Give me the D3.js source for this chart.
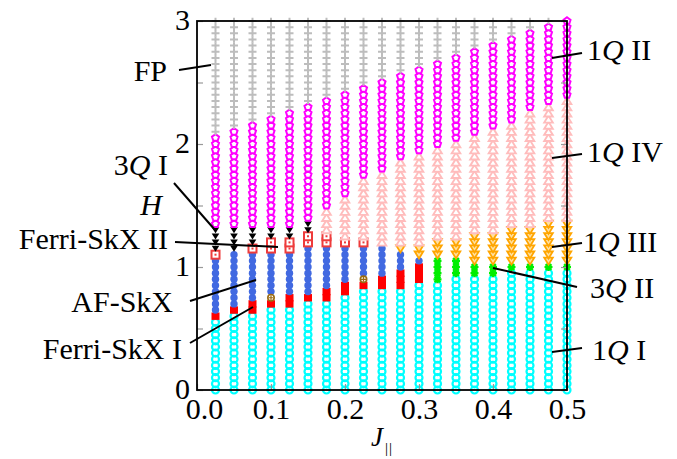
<!DOCTYPE html>
<html>
<head>
<meta charset="utf-8">
<script src="https://cdn.jsdelivr.net/npm/d3@7"></script>
<style>
  html, body { margin: 0; padding: 0; background: #fff; }
  svg { display: block; }
  text { font-family: "Liberation Serif", "Times New Roman", serif; fill: #000; }
</style>
</head>
<body>
<svg id="chart" width="677" height="459"></svg>
<script>
// Exchange coupling J_parallel of each computed column
const jValues = [0.025, 0.05, 0.075, 0.1, 0.125, 0.15, 0.175, 0.2, 0.225, 0.25,
                 0.275, 0.3, 0.325, 0.35, 0.375, 0.4, 0.425, 0.45, 0.475, 0.5];

// Field grid step used in every column
const hStep = 0.05;

// For each phase: [lowest H, highest H] per column (null = phase absent)
const rangeFP = [[2.1,3],[2.15,3],[2.2,3],[2.25,3],[2.3,3],[2.35,3],[2.4,3],[2.45,3],[2.5,3],[2.55,3],
                 [2.6,3],[2.65,3],[2.7,3],[2.75,3],[2.8,3],[2.85,3],[2.9,3],[2.95,3],[3,3],null];
const range1QII = [[1.35,2.05],[1.35,2.1],[1.35,2.15],[1.35,2.2],[1.35,2.25],[1.4,2.3],[1.5,2.35],[1.6,2.4],[1.75,2.45],[1.8,2.5],
                   [1.9,2.55],[1.95,2.6],[2.0,2.65],[2.05,2.7],[2.1,2.75],[2.15,2.8],[2.2,2.85],[2.3,2.9],[2.35,2.95],[2.4,3.0]];
const range1QIV = [null,null,null,null,null,null,[1.3,1.45],[1.25,1.55],[1.25,1.7],[1.2,1.75],
                   [1.2,1.85],[1.2,1.9],[1.25,1.95],[1.25,2.0],[1.3,2.05],[1.3,2.1],[1.35,2.15],[1.35,2.25],[1.4,2.3],[1.4,2.35]];
const range3QI = [[1.15,1.3],[1.15,1.3],[1.2,1.3],[1.25,1.3],[1.25,1.3],[1.3,1.35],null,null,null,null,
                  null,null,null,null,null,null,null,null,null,null];
const rangeFerriII = [[1.1,1.1],null,[1.15,1.15],[1.15,1.2],[1.15,1.2],[1.2,1.25],[1.2,1.25],[1.2,1.2],[1.2,1.2],null,
                      null,null,null,null,null,null,null,null,null,null];
const range1QIII = [null,null,null,null,null,null,null,null,null,null,
                    [1.15,1.15],[1.1,1.15],[1.1,1.2],[1.1,1.2],[1.05,1.25],[1.05,1.25],[1.05,1.3],[1.05,1.3],[1.05,1.35],[1.05,1.35]];
const rangeAFSkX = [[0.65,1.05],[0.7,1.1],[0.75,1.1],[0.8,1.1],[0.8,1.1],[0.8,1.15],[0.85,1.15],[0.9,1.15],[0.95,1.15],[0.95,1.15],
                    [1.0,1.1],[1.05,1.05],null,null,null,null,null,null,null,null];
const range3QII = [null,null,null,null,null,null,null,null,null,null,
                   null,null,[0.9,1.05],[0.95,1.05],[0.95,1.0],[0.95,1.0],[1.0,1.0],[1.0,1.0],[1.0,1.0],[1.0,1.0]];
const rangeFerriI = [[0.6,0.6],[0.65,0.65],[0.65,0.7],[0.7,0.7],[0.7,0.75],[0.75,0.75],[0.75,0.8],[0.8,0.85],[0.85,0.85],[0.85,0.9],
                     [0.85,0.95],[0.9,1.0],null,null,null,null,null,null,null,null];
const range1QI = [[0,0.55],[0,0.6],[0,0.6],[0,0.65],[0,0.65],[0,0.7],[0,0.7],[0,0.75],[0,0.8],[0,0.8],
                  [0,0.8],[0,0.85],[0,0.85],[0,0.9],[0,0.9],[0,0.9],[0,0.95],[0,0.95],[0,0.95],[0,0.95]];
// Isolated points of an unlabelled state: [J, H]
const otherPoints = [[0.1, 0.75], [0.225, 0.9]];

const xTicks = [0, 0.1, 0.2, 0.3, 0.4, 0.5];
const yTicks = [0, 0.5, 1, 1.5, 2, 2.5, 3];

const svg = d3.select("#chart");
const plotLeft = 197, plotRight = 567, plotTop = 21, plotBottom = 390;
const x = d3.scaleLinear().domain([0, 0.5]).range([plotLeft, plotRight]);
const y = d3.scaleLinear().domain([0, 3]).range([plotBottom, plotTop]);

function expand(ranges) {
  const pts = [];
  ranges.forEach((r, i) => {
    if (!r) return;
    const a = Math.round(r[0] / hStep), b = Math.round(r[1] / hStep);
    for (let k = a; k <= b; k++) pts.push([jValues[i], k * hStep]);
  });
  return pts;
}

const plot = svg.append("g");

function layer(points, draw) {
  const g = plot.append("g");
  points.forEach(p => {
    const m = g.append("g").attr("transform", `translate(${x(p[0])},${y(p[1])})`);
    draw(m);
  });
}

// 1Q I: cyan open circles
layer(expand(range1QI), m => m.append("circle").attr("r", 3.5)
  .attr("fill", "none").attr("stroke", "#00ffff").attr("stroke-width", 2.2));
// Ferri-SkX I: red filled squares
layer(expand(rangeFerriI), m => m.append("rect").attr("x", -4).attr("y", -3.7)
  .attr("width", 8).attr("height", 7.4).attr("fill", "#ff0000"));
// AF-SkX: blue dots
layer(expand(rangeAFSkX), m => m.append("circle").attr("r", 3.7).attr("fill", "#4169e1"));
// unlabelled state
layer(otherPoints, m => {
  m.append("circle").attr("r", 3.2).attr("fill", "#fff").attr("stroke", "#9a6b12").attr("stroke-width", 1.6);
  m.append("path").attr("d", "M-2.5,0H2.5M0,-2.5V2.5").attr("stroke", "#9a6b12").attr("stroke-width", 1.2);
});
// Ferri-SkX II: red open squares
layer(expand(rangeFerriII), m => {
  m.append("rect").attr("x", -4).attr("y", -4).attr("width", 8).attr("height", 8)
    .attr("fill", "#fff").attr("stroke", "#ee3b3b").attr("stroke-width", 2);
  m.append("rect").attr("x", -1).attr("y", -1).attr("width", 2).attr("height", 2).attr("fill", "#ee3b3b");
});
// 3Q I: black filled down-triangles
layer(expand(range3QI), m => m.append("path").attr("d", "M-3.8,-2.8L3.8,-2.8L0,3.2Z").attr("fill", "#000"));
// 3Q II: green asterisks
layer(expand(range3QII), m => m.append("path")
  .attr("d", "M-4,0H4M0,-4V4M-2.9,-2.9L2.9,2.9M-2.9,2.9L2.9,-2.9")
  .attr("stroke", "#00ee00").attr("stroke-width", 2.2));
// 1Q III: orange open down-triangles
layer(expand(range1QIII), m => m.append("path").attr("d", "M-4.3,-3.2L4.3,-3.2L0,3.8Z")
  .attr("fill", "#ffe0a0").attr("stroke", "#ffa500").attr("stroke-width", 1.8));
// 1Q IV: pink open up-triangles
layer(expand(range1QIV), m => m.append("path").attr("d", "M-4.3,3.2L4.3,3.2L0,-3.8Z")
  .attr("fill", "#fff").attr("stroke", "#ffbcbc").attr("stroke-width", 1.9));
// 1Q II: magenta open pentagons
const pent = d3.range(5).map(i => {
  const a = -Math.PI / 2 + i * 2 * Math.PI / 5;
  return [3.7 * Math.cos(a), 3.7 * Math.sin(a)];
});
layer(expand(range1QII), m => m.append("path").attr("d", "M" + pent.join("L") + "Z")
  .attr("fill", "#fff").attr("stroke", "#ff00ff").attr("stroke-width", 2));
// FP: gray crosses
layer(expand(rangeFP), m => m.append("path").attr("d", "M-4,0H4M0,-3.2V3.2")
  .attr("stroke", "#bdbdbd").attr("stroke-width", 2));

// Axes with inward ticks
const fontSize = 30;
const gx = svg.append("g").attr("transform", `translate(0,${plotBottom})`)
  .call(d3.axisBottom(x).tickValues(xTicks).tickSizeInner(-6).tickSizeOuter(0).tickPadding(8)
    .tickFormat(d3.format(".1f")));
const gy = svg.append("g").attr("transform", `translate(${plotLeft},0)`)
  .call(d3.axisLeft(y).tickValues(yTicks).tickSizeInner(-6).tickSizeOuter(0).tickPadding(7)
    .tickFormat(d => Number.isInteger(d) ? d : ""));
const gr = svg.append("g").attr("transform", `translate(${plotRight},0)`)
  .call(d3.axisRight(y).tickValues(yTicks).tickSizeInner(-6).tickSizeOuter(0).tickFormat(""));
[gx, gy, gr].forEach(g => {
  g.select(".domain").remove();
  g.selectAll(".tick line").attr("stroke", "#999").attr("stroke-width", 1.2);
  g.selectAll(".tick text").attr("font-size", fontSize)
    .attr("font-family", '"Liberation Serif", "Times New Roman", serif').attr("fill", "#000");
});
gy.selectAll(".tick text").attr("dy", "0.28em");
gx.selectAll(".tick text").filter(d => d === 0).attr("dx", 7);

// Frame
svg.append("rect").attr("x", plotLeft).attr("y", plotTop)
  .attr("width", plotRight - plotLeft).attr("height", plotBottom - plotTop)
  .attr("fill", "none").attr("stroke", "#000").attr("stroke-width", 1.8);

// Axis titles
svg.append("text").attr("x", 151).attr("y", 215).attr("text-anchor", "middle")
  .attr("font-size", fontSize).attr("font-style", "italic").text("H");
const jt = svg.append("text").attr("x", 371).attr("y", 446).attr("font-size", 27);
jt.append("tspan").attr("font-style", "italic").text("J");
jt.append("tspan").attr("font-size", 15).attr("dx", 2).attr("dy", 7).attr("letter-spacing", 1).text("||");

// Phase labels with leader lines
function label(parts, tx, ty, anchor, line) {
  const t = svg.append("text").attr("x", tx).attr("y", ty).attr("text-anchor", anchor).attr("font-size", fontSize);
  parts.forEach(p => t.append("tspan").attr("font-style", p[1] ? "italic" : "normal").text(p[0]));
  svg.append("line").attr("x1", line[0]).attr("y1", line[1]).attr("x2", line[2]).attr("y2", line[3])
    .attr("stroke", "#000").attr("stroke-width", 2);
}
label([["FP"]], 167, 81, "end", [179, 70, 211, 65]);
label([["3"], ["Q", 1], [" I"]], 168, 175, "end", [174, 183, 215, 230]);
label([["Ferri-SkX II"]], 168, 249, "end", [175, 242, 278, 247]);
label([["AF-SkX"]], 173, 312, "end", [190, 301, 256, 280]);
label([["Ferri-SkX I"]], 182, 359, "end", [190, 343, 253, 307]);
label([["1"], ["Q", 1], [" II"]], 587, 60, "start", [552, 58, 582, 53]);
label([["1"], ["Q", 1], [" IV"]], 587, 162, "start", [552, 158, 582, 154]);
label([["1"], ["Q", 1], [" III"]], 583, 252, "start", [552, 247, 582, 243]);
label([["3"], ["Q", 1], [" II"]], 590, 298, "start", [493, 268, 577, 287]);
label([["1"], ["Q", 1], [" I"]], 592, 360, "start", [552, 352, 582, 348]);
</script>
</body>
</html>
